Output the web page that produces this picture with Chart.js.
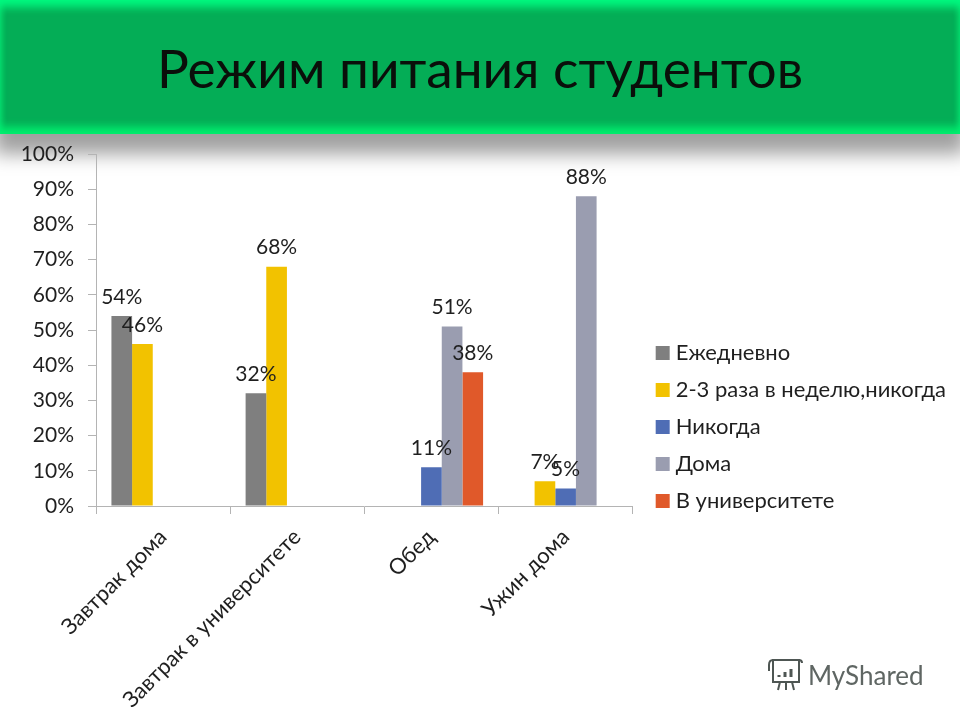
<!DOCTYPE html>
<html lang="ru">
<head>
<meta charset="utf-8">
<title>Режим питания студентов</title>
<style>
  html, body { margin: 0; padding: 0; background: #fff; }
  #page { position: relative; width: 960px; height: 720px; overflow: hidden; }
  #banner {
    position: absolute; left: 0; top: 0; width: 960px; height: 134px;
    background: #04ad56;
    box-shadow: inset 0 10px 8px -3px #00f97f, inset 0 -10px 8px -3px #00ef6e,
      inset 5px 0 5px -2px #08c566, inset -5px 0 5px -2px #08c566, 0 14px 18px 6px #a0a0a0;
  }
  #chart { position: absolute; left: 0; top: 0; }
  #mark { position: absolute; left: 767px; top: 657px; display: flex; align-items: center; color: #5f6663;
    font: 26px Lato, sans-serif; }
  #mark svg { margin-right: 4px; }
</style>
</head>
<body>
<div id="page">
  <div id="banner"></div>
  <canvas id="chart" width="960" height="720"></canvas>
  <div id="mark">
    <svg width="37" height="36" viewBox="0 0 37 36" fill="none" stroke="#4e5653" stroke-width="2">
      <path d="M6 3h26v22H6zM6 3c-3 0-4 2-4 5v6M32 3c2 0 3 1 3 3"/>
      <path d="M13 25l-2 8M19 25v8M25 25l2 8"/>
      <path d="M12 20v-2M18 20v-5M24 20v-8" stroke-width="3"/>
    </svg>
    <span>MyShared</span>
  </div>
</div>
<script src="https://cdn.jsdelivr.net/npm/chart.js@4"></script>
<script>
var TITLE = 'Режим питания студентов';
var categories = ['Завтрак дома', 'Завтрак в университете', 'Обед', 'Ужин дома'];
var seriesNames = ['Ежедневно', '2-3 раза в неделю,никогда', 'Никогда', 'Дома', 'В университете'];
var seriesColors = ['#7f7f7f', '#f2c200', '#4f6db5', '#9a9db0', '#e0592a'];
var daily = [54, 32, null, null];
var fewTimes = [46, 68, null, 7];
var never = [null, null, 11, 5];
var atHome = [null, null, 51, 88];
var atUniversity = [null, null, 38, null];
var allSeries = [daily, fewTimes, never, atHome, atUniversity];

var FONT = "Lato, 'Open Sans', sans-serif";
var TEXT = '#1f1f1f';
var AXIS = '#b4b4b4';

var datasets = allSeries.map(function (values, i) {
  return {
    label: seriesNames[i],
    data: values,
    backgroundColor: seriesColors[i],
    borderWidth: 0,
    categoryPercentage: 0.77,
    barPercentage: 1
  };
});

/* percent labels above the bars */
var barLabels = {
  id: 'barLabels',
  afterDatasetsDraw: function (chart) {
    var ctx = chart.ctx;
    ctx.save();
    ctx.font = '21px ' + FONT;
    ctx.fillStyle = TEXT;
    ctx.textAlign = 'center';
    ctx.textBaseline = 'middle';
    chart.data.datasets.forEach(function (ds, i) {
      chart.getDatasetMeta(i).data.forEach(function (bar, j) {
        if (ds.data[j] === null) return;
        ctx.fillText(ds.data[j] + '%', bar.x, bar.y - 19);
      });
    });
    ctx.restore();
  }
};

/* legend sits lower and further right than the layout puts it, title is centred on the page */
var boxShift = {
  id: 'boxShift',
  afterLayout: function (chart) {
    chart.legend.left += 13;
    chart.legend.right += 13;
    chart.legend.top += 67;
    chart.legend.bottom += 67;
    chart.titleBlock.left += 8.5;
    chart.titleBlock.right += 8.5;
  }
};

/* small legend box + thick stroke of same colour: gives a 14px swatch with a tighter text gap */
function legendItems(chart) {
  return Chart.defaults.plugins.legend.labels.generateLabels(chart).map(function (item) {
    item.lineWidth = 10;
    item.strokeStyle = item.fillStyle;
    return item;
  });
}

new Chart(document.getElementById('chart'), {
  type: 'bar',
  data: { labels: categories, datasets: datasets },
  plugins: [barLabels, boxShift],
  options: {
    responsive: false,
    animation: false,
    layout: { padding: { left: 0, right: 17, top: 0, bottom: 0 } },
    plugins: {
      title: {
        display: true,
        text: TITLE,
        color: '#0a0f0a',
        font: { family: FONT, size: 53.2, weight: 'normal', lineHeight: 1.2 },
        padding: { top: 39, bottom: 51.2 }
      },
      legend: {
        position: 'right',
        maxWidth: 328,
        labels: {
          color: TEXT,
          font: { family: FONT, size: 22 },
          boxWidth: 4,
          boxHeight: 4,
          padding: 15,
          generateLabels: legendItems
        }
      },
      tooltip: { enabled: false }
    },
    scales: {
      x: {
        afterFit: function (scale) { scale.height = 214; },
        grid: { drawOnChartArea: false, color: AXIS, tickLength: 8 },
        border: { color: AXIS },
        ticks: { color: TEXT, font: { family: FONT, size: 22 }, minRotation: 45, maxRotation: 45, padding: 10 }
      },
      y: {
        min: 0,
        max: 100,
        afterFit: function (scale) { scale.width = 96; },
        grid: { drawOnChartArea: false, color: AXIS, tickLength: 8 },
        border: { color: AXIS },
        ticks: {
          color: TEXT,
          font: { family: FONT, size: 21 },
          stepSize: 10,
          padding: 14,
          callback: function (v) { return v + '%'; }
        }
      }
    }
  }
});
</script>
</body>
</html>
